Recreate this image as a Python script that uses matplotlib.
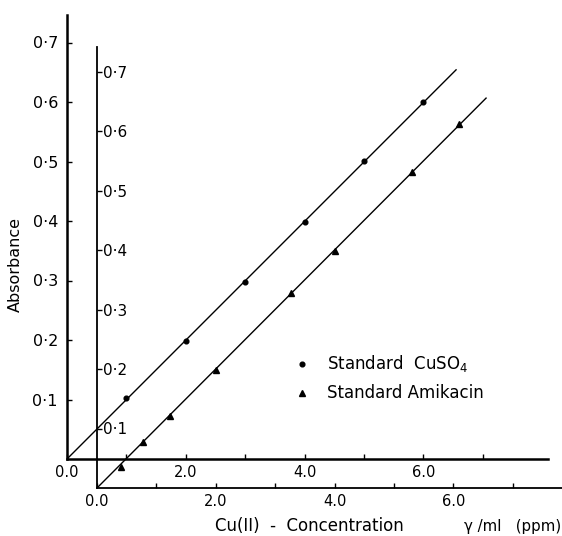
import matplotlib
matplotlib.use('Agg')
import matplotlib.pyplot as plt
import numpy as np

# values
cuso4_conc = [1.0, 2.0, 3.0, 4.0, 5.0, 6.0]
cuso4_abs = [0.103, 0.198, 0.297, 0.398, 0.501, 0.600]

amik_conc = [0.40, 0.77, 1.23, 2.0, 3.27, 4.0, 5.3, 6.1]
amik_abs = [0.035, 0.077, 0.121, 0.198, 0.328, 0.398, 0.531, 0.612]

fit_end = 6.55

y_ticks = [0.1, 0.2, 0.3, 0.4, 0.5, 0.6, 0.7]
y_labels = ['0·1', '0·2', '0·3', '0·4', '0·5', '0·6', '0·7']
x_ticks = [0, 1, 2, 3, 4, 5, 6, 7]
x_labels = ['0.0', '', '2.0', '', '4.0', '', '6.0', '']

W, H = 562, 536
px_x = 59.4   # pixels per ppm
px_y = 595.0  # pixels per absorbance unit

fig = plt.figure(figsize=(W / 100, H / 100), dpi=100)

# outer axes (CuSO4), origin at pixel (67, 459)
ax1 = fig.add_axes([67 / W, (H - 459) / H, (548 - 67) / W, (459 - 15) / H])
ax1.set_xlim(0, (548 - 67) / px_x)
ax1.set_ylim(0, (459 - 15) / px_y)

# inner axes (Amikacin), shifted origin at pixel (97, 488)
ax2 = fig.add_axes([97 / W, (H - 488) / H, (562 - 97) / W, (488 - 47) / H])
ax2.set_xlim(0, (562 - 97) / px_x)
ax2.set_ylim(0, (488 - 47) / px_y)
ax2.patch.set_visible(False)

for ax, lw in [(ax1, 1.8), (ax2, 1.3)]:
    ax.spines['top'].set_visible(False)
    ax.spines['right'].set_visible(False)
    ax.spines['left'].set_linewidth(lw)
    ax.spines['bottom'].set_linewidth(lw)
    ax.set_xticks(x_ticks)
    ax.set_xticklabels(x_labels)
    ax.set_yticks(y_ticks)
    ax.set_yticklabels(y_labels)
    ax.tick_params(direction='in', length=3.6, width=1.0, colors='black')
    ax.tick_params(axis='x', labelsize=10.5, pad=4)

ax1.tick_params(axis='y', labelsize=11.5, pad=6.5)
ax2.tick_params(axis='y', labelsize=11, pad=-4.5)
for t in ax2.get_yticklabels():
    t.set_horizontalalignment('left')

# fitted lines through origin
def fit_line(x, y):
    x = np.array(x)
    y = np.array(y)
    slope = np.sum(x * y) / np.sum(x * x)
    xs = np.array([0, fit_end])
    return xs, slope * xs

xs, ys = fit_line(cuso4_conc, cuso4_abs)
ax1.plot(xs, ys, color='black', lw=1.0)
h1, = ax1.plot(cuso4_conc, cuso4_abs, 'o', color='black', ms=3.4,
               label='Standard  CuSO$_4$')

xs, ys = fit_line(amik_conc, amik_abs)
ax2.plot(xs, ys, color='black', lw=1.0)
h2, = ax2.plot(amik_conc, amik_abs, '^', color='black', ms=4,
               label='Standard Amikacin')

ax2.legend(handles=[h1, h2], loc='center left',
           bbox_to_anchor=(294 / W, 1 - 378 / H), bbox_transform=fig.transFigure,
           frameon=False, fontsize=12, handlelength=1.0, handletextpad=1.0,
           labelspacing=0.6, borderpad=0, borderaxespad=0)

fig.text(15 / W, 1 - 264 / H, 'Absorbance', rotation=90, fontsize=11.5,
         ha='center', va='center')
fig.text(215 / W, 1 - 526 / H, 'Cu(II)  -  Concentration', fontsize=12,
         ha='left', va='center')
fig.text(464 / W, 1 - 526 / H, 'γ /ml   (ppm)', fontsize=10.8,
         ha='left', va='center')

fig.savefig('out.png', dpi=100)
